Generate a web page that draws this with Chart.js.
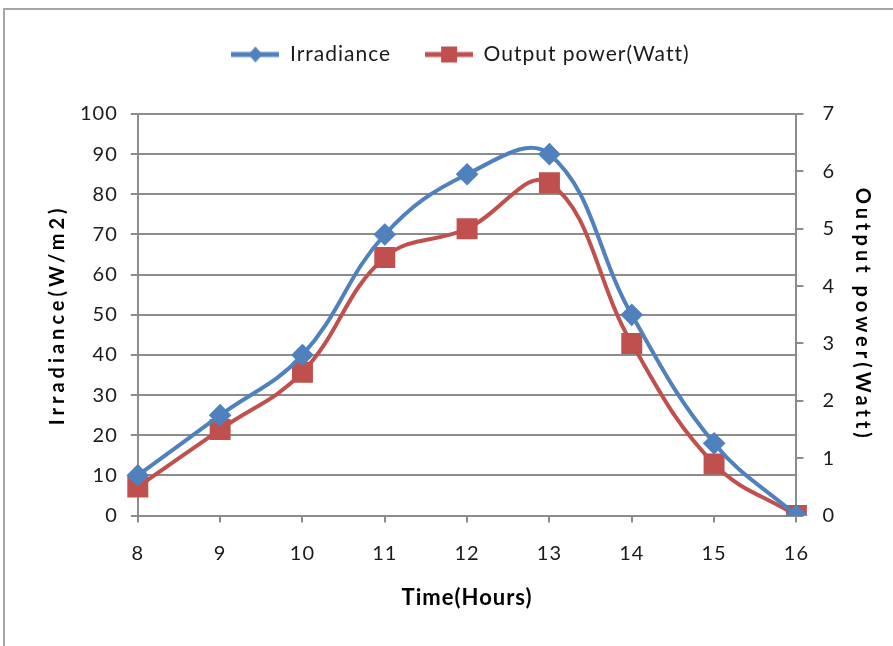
<!DOCTYPE html>
<html>
<head>
<meta charset="utf-8">
<script src="https://cdn.jsdelivr.net/npm/chart.js@4"></script>
<style>
  html, body { margin: 0; padding: 0; background: #fff; overflow: hidden; }
  #wrap { position: relative; width: 893px; height: 646px; }
  #frame { position: absolute; left: 3px; top: 8px; width: 1000px; height: 800px;
           border: 2px solid #a6a6a6; box-sizing: border-box; }
  canvas { position: absolute; left: 0; top: 0; }
</style>
</head>
<body>
<div id="wrap">
  <div id="frame"></div>
  <canvas id="chart" width="893" height="646"></canvas>
</div>
<script>
const hours = [8, 9, 10, 11, 12, 13, 14, 15, 16];
const irradiance = [10, 25, 40, 70, 85, 90, 50, 18, 0];
const outputPower = [0.5, 1.5, 2.5, 4.5, 5.0, 5.8, 3.0, 0.9, 0];

const blue = '#4F81BD';
const red = '#C0504D';
const font = 'Lato, "Open Sans", sans-serif';
const gridGray = '#8c8c8c';
const textColor = '#1a1a1a';

// legend swatch: line with marker in the middle
function swatch(color, shape) {
    const c = document.createElement('canvas');
    c.width = 48; c.height = 18;
    const g = c.getContext('2d');
    g.strokeStyle = color;
    g.lineWidth = 5;
    g.beginPath(); g.moveTo(0, 9); g.lineTo(48, 9); g.stroke();
    g.fillStyle = color;
    if (shape === 'diamond') {
        g.beginPath(); g.moveTo(24, 1); g.lineTo(31, 9); g.lineTo(24, 17); g.lineTo(17, 9); g.closePath(); g.fill();
    } else {
        g.fillRect(16, 1, 16, 16);
    }
    return c;
}
const swatches = [swatch(blue, 'diamond'), swatch(red, 'square')];

// spaced-out text like the original, and extra room under the legend
const spacing = {
    id: 'spacing',
    beforeLayout(chart) {
        chart.ctx.letterSpacing = '1px';
        const lg = chart.legend;
        if (lg && !lg._tall) {
            const fit = lg.fit;
            lg.fit = function () { fit.call(this); this.height += 39; };
            lg._tall = true;
        }
    },
    beforeDraw(chart) {
        chart.ctx.letterSpacing = '1px';
        ['y', 'y1'].forEach(function (id) {
            const s = chart.scales[id];
            if (s && !s._spaced) {
                const orig = s.drawTitle;
                s.drawTitle = function () {
                    const c = this.ctx;
                    const prev = c.letterSpacing;
                    c.letterSpacing = '4px';
                    orig.apply(this, arguments);
                    c.letterSpacing = prev;
                };
                s._spaced = true;
            }
        });
    }
};

const ctx = document.getElementById("chart").getContext("2d");
new Chart(ctx, {
    type: 'line',
    data: {
        labels: hours,
        datasets: [{
            label: 'Irradiance',
            data: irradiance,
            yAxisID: 'y',
            borderColor: blue,
            backgroundColor: blue,
            borderWidth: 4,
            pointStyle: 'rectRot',
            pointRadius: 8.5,
            tension: 0.4
        }, {
            label: 'Output power(Watt)',
            data: outputPower,
            yAxisID: 'y1',
            borderColor: red,
            backgroundColor: red,
            borderWidth: 4,
            pointStyle: 'rect',
            pointRadius: 12,
            tension: 0.4
        }]
    },
    plugins: [spacing],
    options: {
        responsive: false,
        animation: false,
        layout: {
            padding: { left: 40, right: 12, top: 10, bottom: 30 }
        },
        plugins: {
            legend: {
                display: true,
                position: 'top',
                labels: {
                    usePointStyle: true,
                    pointStyleWidth: 48,
                    color: textColor,
                    font: { family: font, size: 21 },
                    padding: 34,
                    generateLabels: function (chart) {
                        return chart.data.datasets.map(function (ds, i) {
                            return {
                                text: ds.label,
                                pointStyle: swatches[i],
                                fillStyle: ds.borderColor,
                                strokeStyle: ds.borderColor,
                                lineWidth: 0,
                                datasetIndex: i,
                                fontColor: textColor
                            };
                        });
                    }
                }
            },
            tooltip: { enabled: false }
        },
        scales: {
            x: {
                grid: {
                    drawOnChartArea: false,
                    drawTicks: true,
                    tickLength: 7,
                    color: gridGray,
                    lineWidth: 2
                },
                border: { color: gridGray, width: 2 },
                ticks: {
                    color: textColor,
                    font: { family: font, size: 20 },
                    padding: 19
                },
                title: {
                    display: true,
                    text: 'Time(Hours)',
                    color: '#000',
                    font: { family: font, size: 22, weight: 'bold' },
                    padding: { top: 0, bottom: 5 }
                }
            },
            y: {
                position: 'left',
                min: 0,
                max: 100,
                grid: {
                    color: gridGray,
                    lineWidth: 2,
                    tickLength: 7
                },
                border: { color: gridGray, width: 2 },
                ticks: {
                    stepSize: 10,
                    color: textColor,
                    font: { family: font, size: 20 },
                    padding: 13
                },
                title: {
                    display: true,
                    text: 'Irradiance(W/m2)',
                    color: '#000',
                    font: { family: font, size: 20, weight: 'bold' },
                    padding: { top: 6, bottom: -3 }
                }
            },
            y1: {
                position: 'right',
                min: 0,
                max: 7,
                grid: {
                    drawOnChartArea: false,
                    color: gridGray,
                    lineWidth: 2,
                    tickLength: 7
                },
                border: { color: gridGray, width: 2 },
                ticks: {
                    stepSize: 1,
                    color: textColor,
                    font: { family: font, size: 20 },
                    padding: 19
                },
                title: {
                    display: true,
                    text: 'Output power(Watt)',
                    color: '#000',
                    font: { family: font, size: 20, weight: 'bold' },
                    padding: { top: 7, bottom: -4 }
                }
            }
        }
    }
});
</script>
</body>
</html>
